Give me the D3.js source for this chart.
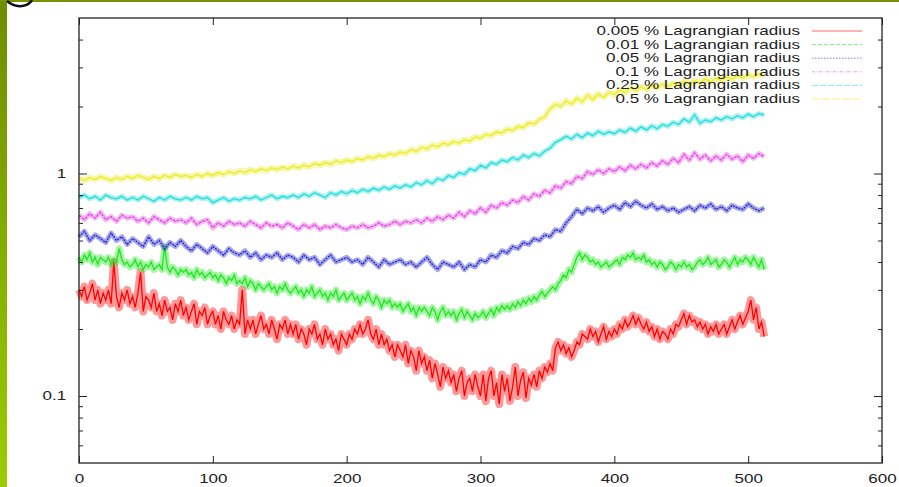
<!DOCTYPE html>
<html>
<head>
<meta charset="utf-8">
<script src="https://cdn.jsdelivr.net/npm/d3@7"></script>
<style>
  html, body { margin: 0; padding: 0; background: #fff; }
  svg { display: block; }
  text { font-family: "Liberation Sans", Arial, Helvetica, sans-serif; fill: #222; }
</style>
</head>
<body>
<svg id="chart" width="899" height="487"></svg>
<script>
// Lagrangian radii vs time, log y axis
// values, red/green every 2 units, the rest every 4

const xTicks = [0, 100, 200, 300, 400, 500, 600];
const yMajor = [0.1, 1];
const yMinor = [0.06, 0.07, 0.08, 0.09, 0.2, 0.3, 0.4, 0.5, 0.6, 0.7, 0.8, 0.9, 2, 3, 4];

const labels = [
    '0.005 % Lagrangian radius',
    '0.01 % Lagrangian radius',
    '0.05 % Lagrangian radius',
    '0.1 % Lagrangian radius',
    '0.25 % Lagrangian radius',
    '0.5 % Lagrangian radius'
];

const r0005 = [
    0.30, 0.28, 0.31, 0.27, 0.29, 0.32, 0.27, 0.30, 0.26, 0.29,
    0.27, 0.30, 0.26, 0.40, 0.28, 0.25, 0.29, 0.27, 0.30, 0.26,
    0.28, 0.25, 0.29, 0.36, 0.24, 0.28, 0.27, 0.25, 0.29, 0.24,
    0.26, 0.23, 0.27, 0.24, 0.25, 0.22, 0.26, 0.24, 0.27, 0.23,
    0.25, 0.22, 0.24, 0.26, 0.21, 0.24, 0.23, 0.25, 0.21, 0.23,
    0.24, 0.21, 0.23, 0.20, 0.24, 0.22, 0.21, 0.23, 0.20, 0.22,
    0.21, 0.30, 0.19, 0.22, 0.20, 0.22, 0.19, 0.21, 0.23, 0.20,
    0.21, 0.19, 0.22, 0.20, 0.18, 0.21, 0.20, 0.22, 0.19, 0.21,
    0.19, 0.21, 0.18, 0.20, 0.19, 0.17, 0.20, 0.19, 0.21, 0.18,
    0.19, 0.17, 0.20, 0.18, 0.19, 0.17, 0.18, 0.16, 0.19, 0.18,
    0.17, 0.19, 0.18, 0.20, 0.19, 0.21, 0.19, 0.20, 0.22, 0.19,
    0.18, 0.20, 0.17, 0.19, 0.17, 0.18, 0.16, 0.17, 0.15, 0.17,
    0.16, 0.15, 0.17, 0.14, 0.16, 0.15, 0.13, 0.16, 0.14, 0.15,
    0.13, 0.145, 0.12, 0.14, 0.125, 0.11, 0.135, 0.12, 0.13, 0.115,
    0.125, 0.105, 0.12, 0.13, 0.10, 0.115, 0.12, 0.105, 0.125, 0.11,
    0.10, 0.125, 0.095, 0.12, 0.13, 0.10, 0.115, 0.092, 0.125, 0.105,
    0.12, 0.095, 0.11, 0.135, 0.10, 0.118, 0.128, 0.098, 0.12, 0.112,
    0.125, 0.11, 0.13, 0.12, 0.135, 0.128, 0.14, 0.13, 0.165, 0.175,
    0.16, 0.17, 0.155, 0.165, 0.15, 0.16, 0.175, 0.17, 0.19, 0.185,
    0.18, 0.20, 0.185, 0.195, 0.175, 0.19, 0.205, 0.18, 0.195, 0.185,
    0.20, 0.19, 0.21, 0.20, 0.22, 0.205, 0.215, 0.23, 0.21, 0.225,
    0.21, 0.20, 0.215, 0.195, 0.205, 0.185, 0.20, 0.18, 0.195, 0.19,
    0.18, 0.20, 0.19, 0.21, 0.205, 0.22, 0.235, 0.21, 0.23, 0.215,
    0.22, 0.205, 0.215, 0.20, 0.21, 0.19, 0.205, 0.195, 0.21, 0.19,
    0.20, 0.21, 0.19, 0.205, 0.22, 0.20, 0.215, 0.23, 0.21, 0.225,
    0.24, 0.27, 0.22, 0.25, 0.20, 0.215, 0.185
];

const r001 = [
    0.42, 0.40, 0.43, 0.41, 0.44, 0.40, 0.42, 0.39, 0.42, 0.41,
    0.40, 0.42, 0.39, 0.41, 0.40, 0.46, 0.41, 0.39, 0.40, 0.38,
    0.39, 0.41, 0.38, 0.40, 0.37, 0.39, 0.38, 0.40, 0.37, 0.38,
    0.39, 0.37, 0.47, 0.38, 0.36, 0.38, 0.37, 0.35, 0.37, 0.36,
    0.37, 0.35, 0.36, 0.34, 0.37, 0.35, 0.36, 0.34, 0.35, 0.36,
    0.34, 0.35, 0.33, 0.35, 0.34, 0.32, 0.34, 0.33, 0.35, 0.32,
    0.33, 0.32, 0.34, 0.31, 0.33, 0.32, 0.30, 0.32, 0.31, 0.30,
    0.31, 0.32, 0.30, 0.31, 0.29, 0.31, 0.30, 0.32, 0.30, 0.29,
    0.30, 0.31, 0.29, 0.30, 0.28, 0.30, 0.29, 0.31, 0.28, 0.29,
    0.30, 0.28, 0.29, 0.27, 0.29, 0.28, 0.30, 0.27, 0.28, 0.29,
    0.27, 0.28, 0.29, 0.27, 0.28, 0.26, 0.28, 0.27, 0.29, 0.27,
    0.26, 0.28, 0.27, 0.25, 0.27, 0.26, 0.27, 0.25, 0.26, 0.25,
    0.26, 0.24, 0.25, 0.26, 0.24, 0.25, 0.23, 0.25, 0.24, 0.25,
    0.24, 0.23, 0.25, 0.24, 0.22, 0.24, 0.25, 0.23, 0.24, 0.23,
    0.24, 0.22, 0.235, 0.245, 0.225, 0.24, 0.23, 0.22, 0.235, 0.225,
    0.23, 0.24, 0.225, 0.235, 0.245, 0.23, 0.25, 0.24, 0.255, 0.245,
    0.255, 0.245, 0.26, 0.25, 0.265, 0.255, 0.27, 0.26, 0.275, 0.265,
    0.28, 0.27, 0.285, 0.295, 0.28, 0.29, 0.30, 0.31, 0.30, 0.32,
    0.33, 0.35, 0.34, 0.37, 0.36, 0.39, 0.42, 0.44, 0.41, 0.43,
    0.42, 0.40, 0.41, 0.39, 0.40, 0.38, 0.39, 0.40, 0.38, 0.39,
    0.40, 0.41, 0.39, 0.42, 0.41, 0.43, 0.42, 0.44, 0.41, 0.42,
    0.41, 0.43, 0.40, 0.41, 0.39, 0.40, 0.38, 0.40, 0.39, 0.37,
    0.38, 0.40, 0.39, 0.37, 0.39, 0.38, 0.40, 0.38, 0.39, 0.37,
    0.38, 0.40, 0.41, 0.39, 0.40, 0.42, 0.39, 0.40, 0.41, 0.38,
    0.39, 0.41, 0.40, 0.38, 0.40, 0.42, 0.39, 0.41, 0.40, 0.42,
    0.41, 0.39, 0.42, 0.40, 0.38, 0.41, 0.37
];

const r005 = [
    0.52, 0.55, 0.50, 0.53, 0.51, 0.49, 0.54, 0.50, 0.52, 0.48,
    0.51, 0.49, 0.47, 0.52, 0.48, 0.50, 0.46, 0.49, 0.47, 0.50,
    0.47, 0.45, 0.48, 0.46, 0.44, 0.47, 0.45, 0.43, 0.46, 0.44,
    0.43, 0.45, 0.42, 0.44, 0.41, 0.43, 0.42, 0.44, 0.41, 0.43,
    0.42, 0.40, 0.43, 0.41, 0.42, 0.39, 0.41, 0.43, 0.40, 0.41,
    0.42, 0.40, 0.41, 0.39, 0.42, 0.40, 0.38, 0.41, 0.39, 0.40,
    0.41, 0.39, 0.40, 0.38, 0.40, 0.42, 0.39, 0.37, 0.40, 0.39,
    0.38, 0.40, 0.37, 0.39, 0.38, 0.41, 0.40, 0.43, 0.42, 0.45,
    0.44, 0.47, 0.46, 0.49, 0.48, 0.51, 0.50, 0.53, 0.52, 0.56,
    0.55, 0.60, 0.64, 0.69, 0.66, 0.70, 0.68, 0.71, 0.67, 0.70,
    0.72, 0.69, 0.74, 0.71, 0.75, 0.72, 0.70, 0.73, 0.69, 0.71,
    0.68, 0.70, 0.67, 0.69, 0.71, 0.68, 0.72, 0.70, 0.73, 0.69,
    0.71, 0.68, 0.72, 0.70, 0.69, 0.73, 0.70, 0.68, 0.70
];

const r01 = [
    0.65, 0.62, 0.66, 0.63, 0.67, 0.62, 0.64, 0.61, 0.65, 0.63,
    0.64, 0.61, 0.63, 0.60, 0.64, 0.62, 0.60, 0.63, 0.61, 0.62,
    0.60, 0.63, 0.59, 0.61, 0.62, 0.57, 0.60, 0.58, 0.61, 0.59,
    0.60, 0.58, 0.61, 0.59, 0.57, 0.60, 0.58, 0.59, 0.57, 0.60,
    0.58, 0.56, 0.59, 0.57, 0.59, 0.56, 0.58, 0.57, 0.59, 0.57,
    0.56, 0.58, 0.57, 0.59, 0.57, 0.58, 0.60, 0.58, 0.59, 0.61,
    0.59, 0.61, 0.60, 0.62, 0.60, 0.63, 0.61, 0.64, 0.62, 0.65,
    0.63, 0.67, 0.64, 0.68, 0.66, 0.70, 0.67, 0.72, 0.70, 0.74,
    0.72, 0.76, 0.74, 0.79, 0.76, 0.81, 0.79, 0.84, 0.82, 0.88,
    0.86, 0.92, 0.90, 0.97, 0.95, 1.02, 0.99, 1.04, 1.00, 1.05,
    1.02, 1.07, 1.03, 1.09, 1.05, 1.10, 1.06, 1.12, 1.08, 1.14,
    1.10, 1.17, 1.12, 1.22, 1.15, 1.24, 1.16, 1.21, 1.14, 1.20,
    1.15, 1.22, 1.16, 1.20, 1.13, 1.21, 1.17, 1.23, 1.19
];

const r025 = [
    0.78, 0.80, 0.77, 0.79, 0.76, 0.80, 0.78, 0.77, 0.79, 0.76,
    0.78, 0.76, 0.79, 0.77, 0.75, 0.78, 0.76, 0.79, 0.77, 0.76,
    0.78, 0.76, 0.79, 0.77, 0.78, 0.74, 0.76, 0.78, 0.75, 0.77,
    0.76, 0.78, 0.77, 0.79, 0.76, 0.78, 0.80, 0.77, 0.79, 0.78,
    0.80, 0.78, 0.81, 0.79, 0.82, 0.80, 0.78, 0.82, 0.80, 0.83,
    0.81, 0.84, 0.82, 0.85, 0.83, 0.86, 0.84, 0.87, 0.85, 0.88,
    0.86, 0.89, 0.87, 0.91, 0.89, 0.93, 0.90, 0.95, 0.93, 0.98,
    0.96, 1.01, 0.99, 1.05, 1.03, 1.09, 1.06, 1.12, 1.10, 1.15,
    1.13, 1.18, 1.15, 1.21, 1.18, 1.23, 1.20, 1.26, 1.30, 1.38,
    1.42, 1.47, 1.43, 1.50, 1.45, 1.52, 1.48, 1.55, 1.50, 1.54,
    1.51, 1.57, 1.53, 1.60, 1.55, 1.62, 1.57, 1.64, 1.59, 1.66,
    1.63, 1.70, 1.66, 1.76, 1.70, 1.84, 1.68, 1.74, 1.71, 1.78,
    1.74, 1.80, 1.76, 1.82, 1.78, 1.85, 1.80, 1.86, 1.83
];

const r05 = [
    0.95, 0.93, 0.96, 0.94, 0.97, 0.95, 0.93, 0.96, 0.94, 0.97,
    0.95, 0.98, 0.96, 0.94, 0.97, 0.95, 0.98, 0.96, 0.99, 0.97,
    0.98, 0.96, 0.99, 0.97, 1.00, 0.98, 1.01, 0.99, 1.02, 1.00,
    1.03, 1.01, 1.04, 1.02, 1.05, 1.03, 1.06, 1.04, 1.07, 1.05,
    1.08, 1.06, 1.09, 1.07, 1.11, 1.09, 1.12, 1.10, 1.14, 1.12,
    1.15, 1.13, 1.17, 1.15, 1.19, 1.17, 1.21, 1.19, 1.23, 1.21,
    1.25, 1.23, 1.28, 1.26, 1.31, 1.29, 1.34, 1.32, 1.37, 1.35,
    1.39, 1.37, 1.42, 1.40, 1.46, 1.44, 1.50, 1.48, 1.54, 1.52,
    1.58, 1.56, 1.63, 1.61, 1.69, 1.67, 1.75, 1.80, 1.95, 2.05,
    2.00, 2.12, 2.05, 2.18, 2.10, 2.25, 2.15, 2.28, 2.20, 2.32,
    2.26, 2.38, 2.30, 2.43, 2.35, 2.46, 2.38, 2.50, 2.42, 2.52,
    2.46, 2.55, 2.48, 2.60, 2.52, 2.62, 2.55, 2.66, 2.58, 2.68,
    2.62, 2.72, 2.65, 2.76, 2.68, 2.78, 2.72, 2.80, 2.75
];

// series styling (gnuplot line types 1..6)
const series = [
    { values: r0005, step: 2, color: '#ff0000', dash: null,          lineDash: null,  band: 8 },
    { values: r001,  step: 2, color: '#1ee61e', dash: '4,2',         lineDash: null,  band: 6.5 },
    { values: r005,  step: 4, color: '#2424c8', dash: '1.5,1.5',     lineDash: '2,1', band: 5 },
    { values: r01,   step: 4, color: '#e04ce0', dash: '3,1.5,1,1.5', lineDash: '3,1', band: 5 },
    { values: r025,  step: 4, color: '#28dcdc', dash: '6,2',         lineDash: null,  band: 5 },
    { values: r05,   step: 4, color: '#ecec28', dash: '8,2',         lineDash: null,  band: 6 }
];

const svg = d3.select('#chart');
const margin = { left: 79, right: 882, top: 18, bottom: 463 };
const sx = 1.42; // gnuplot text looks horizontally stretched

const x = d3.scaleLinear().domain([0, 600]).range([margin.left, margin.right]);
const y = d3.scaleLog().domain([0.05, 5]).range([margin.bottom, margin.top]);

// slide decoration: left strip, top rule, bit of a title glyph
const grad = svg.append('defs').append('linearGradient')
    .attr('id', 'strip').attr('x1', 0).attr('x2', 0).attr('y1', 0).attr('y2', 1);
grad.append('stop').attr('offset', '0%').attr('stop-color', '#6e8c00');
grad.append('stop').attr('offset', '100%').attr('stop-color', '#9acd00');
svg.append('rect').attr('x', 0).attr('y', 0).attr('width', 7).attr('height', 487).attr('fill', 'url(#strip)');
svg.append('rect').attr('x', 0).attr('y', 0).attr('width', 899).attr('height', 2).attr('fill', '#7a9400');
svg.append('path')
    .attr('d', 'M7,1 Q14,7 22,6 Q29,5 32,0')
    .attr('fill', 'none').attr('stroke', '#111').attr('stroke-width', 2.5);

// data lines: a soft band underneath plus the line itself
const line = d3.line()
    .x(d => x(d[0]))
    .y(d => y(d[1]));

const plot = svg.append('g').attr('class', 'lines');
series.forEach(s => {
    const pts = s.values.map((v, i) => [i * s.step, v]);
    plot.append('path')
        .datum(pts)
        .attr('fill', 'none')
        .attr('stroke', s.color)
        .attr('stroke-opacity', 0.4)
        .attr('stroke-width', s.band)
        .attr('stroke-linejoin', 'round')
        .attr('d', line);
    plot.append('path')
        .datum(pts)
        .attr('fill', 'none')
        .attr('stroke', s.color)
        .attr('stroke-width', 1.3)
        .attr('stroke-dasharray', s.lineDash)
        .attr('d', line);
});

// axes, ticks pointing inward on all four sides
function clean(g) {
    g.select('.domain').remove();
    g.selectAll('line').attr('stroke', '#222');
}

svg.append('g')
    .attr('transform', `translate(0,${margin.bottom})`)
    .call(d3.axisBottom(x).tickValues(xTicks).tickSizeInner(-7).tickSizeOuter(0).tickPadding(11).tickFormat(d3.format('d')))
    .call(clean)
    .call(g => g.selectAll('text')
        .attr('font-size', 12)
        .attr('font-family', '"Liberation Sans", Arial, sans-serif')
        .attr('fill', '#222')
        .attr('transform', `scale(${sx},1)`));

svg.append('g')
    .attr('transform', `translate(0,${margin.top})`)
    .call(d3.axisTop(x).tickValues(xTicks).tickSizeInner(-7).tickSizeOuter(0).tickFormat(''))
    .call(clean);

svg.append('g')
    .attr('transform', `translate(${margin.left},0)`)
    .call(d3.axisLeft(y).tickValues(yMajor).tickSizeInner(-8).tickSizeOuter(0).tickPadding(9).tickFormat(d => d))
    .call(clean)
    .call(g => g.selectAll('text')
        .attr('font-size', 12)
        .attr('font-family', '"Liberation Sans", Arial, sans-serif')
        .attr('fill', '#222')
        .attr('transform', `scale(${sx},1)`));

svg.append('g')
    .attr('transform', `translate(${margin.left},0)`)
    .call(d3.axisLeft(y).tickValues(yMinor).tickSizeInner(-4).tickSizeOuter(0).tickFormat(''))
    .call(clean);

svg.append('g')
    .attr('transform', `translate(${margin.right},0)`)
    .call(d3.axisRight(y).tickValues(yMajor).tickSizeInner(-8).tickSizeOuter(0).tickFormat(''))
    .call(clean);

svg.append('g')
    .attr('transform', `translate(${margin.right},0)`)
    .call(d3.axisRight(y).tickValues(yMinor).tickSizeInner(-4).tickSizeOuter(0).tickFormat(''))
    .call(clean);

// frame
svg.append('rect')
    .attr('x', margin.left).attr('y', margin.top)
    .attr('width', margin.right - margin.left)
    .attr('height', margin.bottom - margin.top)
    .attr('fill', 'none').attr('stroke', '#222').attr('stroke-width', 1.3);

// legend, top right
const legend = svg.append('g').attr('class', 'legend');
const rowY = d3.scaleLinear().domain([0, 5]).range([31, 99]);
series.forEach((s, i) => {
    const yy = rowY(i);
    legend.append('text')
        .attr('transform', `translate(800,${yy + 4}) scale(${sx},1)`)
        .attr('text-anchor', 'end')
        .attr('font-size', 12)
        .text(labels[i]);
    legend.append('line')
        .attr('x1', 812).attr('x2', 862)
        .attr('y1', yy).attr('y2', yy)
        .attr('stroke', s.color)
        .attr('stroke-opacity', 0.6)
        .attr('stroke-width', 1)
        .attr('stroke-dasharray', s.dash);
});
</script>
</body>
</html>
